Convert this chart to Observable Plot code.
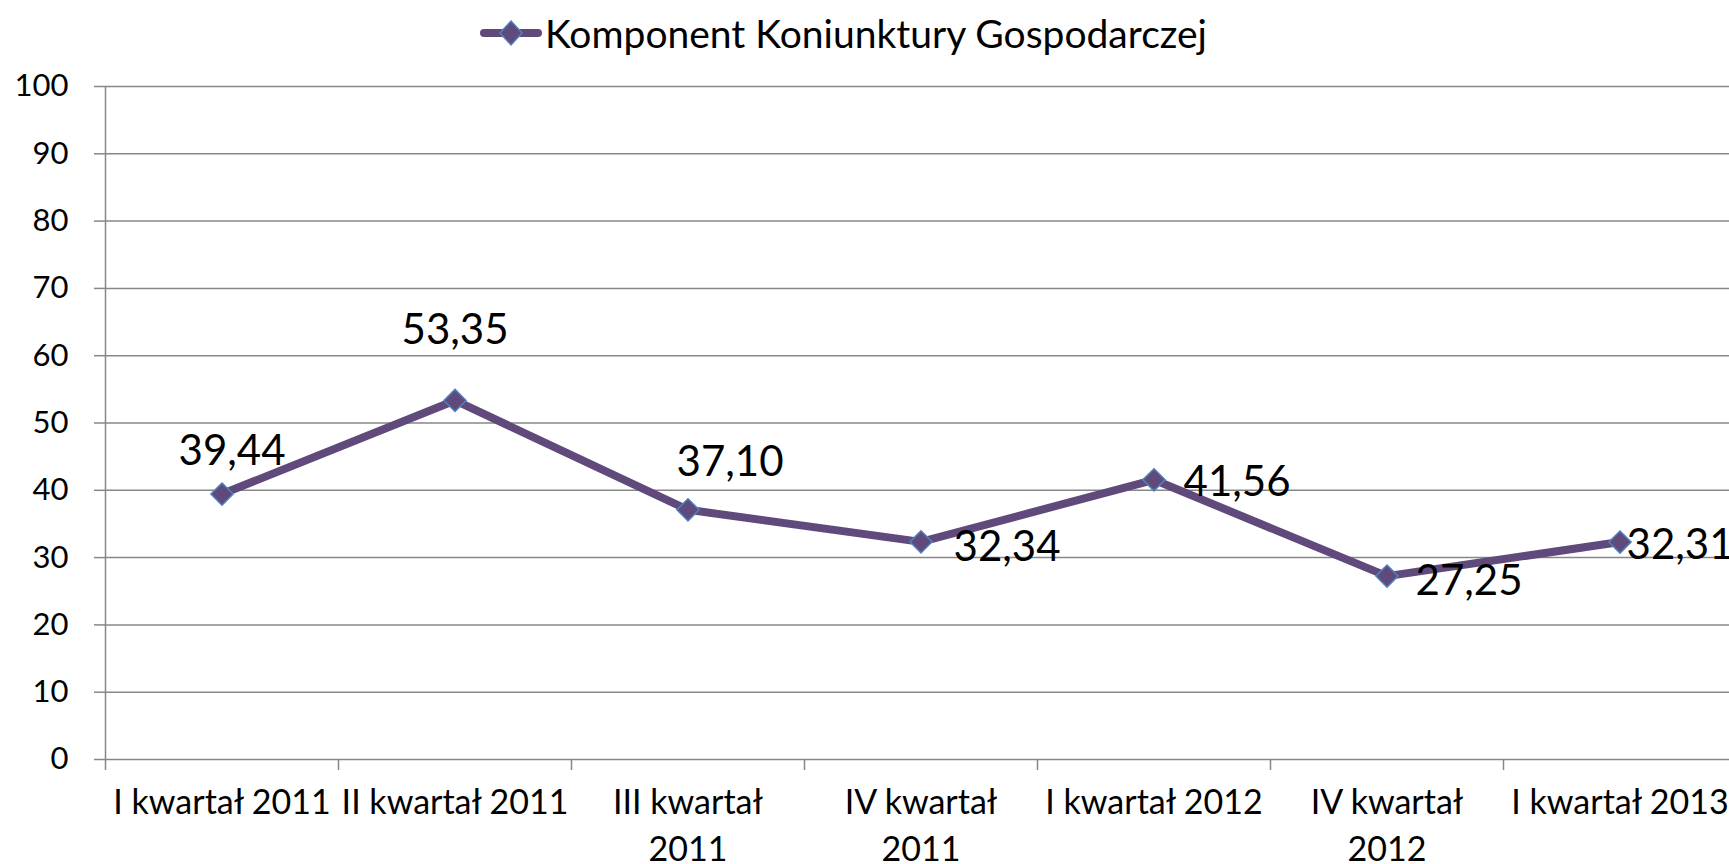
<!DOCTYPE html>
<html>
<head>
<meta charset="utf-8">
<script src="https://cdn.jsdelivr.net/npm/d3@7"></script>
<script src="https://cdn.jsdelivr.net/npm/@observablehq/plot@0.6"></script>
<style>
  html, body { margin: 0; padding: 0; background: #fff; overflow: hidden; width: 1729px; height: 864px; }
  #legend { position: relative; height: 60px; width: 1729px; }
  #legend .item { position: absolute; left: 480px; top: 6px; height: 54px; display: flex; align-items: center; font-family: Lato, sans-serif; font-size: 39px; color: #000; }
  #legend svg { margin-right: 3px; }
  #chart svg { display: block; }
</style>
</head>
<body>
<div id="legend"></div>
<div id="chart"></div>
<script>
// ---- data ----
const seriesName = "Komponent Koniunktury Gospodarczej";
const categories = [
  "I kwartał 2011",
  "II kwartał 2011",
  "III kwartał\n2011",
  "IV kwartał\n2011",
  "I kwartał 2012",
  "IV kwartał\n2012",
  "I kwartał 2013"
];
const values = [39.44, 53.35, 37.10, 32.34, 41.56, 27.25, 32.31];
const yTicks = [0, 10, 20, 30, 40, 50, 60, 70, 80, 90, 100];

// ---- styling (label offsets in px, not data) ----
const lineColor = "#604A7B";
const markerStroke = "#4F81BD";
const gridColor = "#878787";
const labelOffsets = [
  {dx: 10, dy: -43},
  {dx: 0, dy: -70},
  {dx: 42, dy: -47},
  {dx: 86, dy: 6},
  {dx: 83, dy: 3},
  {dx: 82, dy: 5},
  {dx: 60, dy: 3}
];

const data = categories.map((c, i) => ({i, pos: i + 0.5, cat: c, value: values[i]}));
const fmt = v => v.toFixed(2).replace(".", ",");

// legend
const legend = document.getElementById("legend");
legend.innerHTML = `<div class="item"><svg width="62" height="30" viewBox="0 0 62 30">
  <line x1="4" y1="15" x2="58" y2="15" stroke="${lineColor}" stroke-width="8" stroke-linecap="round"/>
  <path d="M31 3 L42 15 L31 27 L20 15 Z" fill="${lineColor}" stroke="${markerStroke}" stroke-width="1.5"/>
</svg><span>${seriesName}</span></div>`;

const W = 1729, H = 804;
const plot = Plot.plot({
  width: W,
  height: H,
  marginLeft: 105,
  marginRight: 0,
  marginTop: 26,
  marginBottom: 105,
  style: {background: "#fff", overflow: "hidden"},
  x: {domain: [0, categories.length], range: [105, 105 + 233 * categories.length], axis: null},
  y: {domain: [0, 100], axis: null},
  marks: [
    Plot.ruleY(yTicks, {stroke: gridColor, strokeWidth: 1.5}),
    Plot.ruleX([0], {y1: 0, y2: 100, stroke: gridColor, strokeWidth: 1.5}),
    Plot.axisY({ticks: yTicks, tickSize: 11, tickPadding: 26, stroke: gridColor, strokeWidth: 1.5, fill: "#000",
      fontSize: 31, fontFamily: "Lato", label: null, tickFormat: d => String(d)}),
    Plot.axisX({ticks: d3.range(0, categories.length + 1), tickSize: 11, stroke: gridColor, strokeWidth: 1.5,
      tickFormat: () => "", label: null}),
    Plot.text(data, {x: "pos", y: () => 0, text: "cat", lineAnchor: "top", dy: 22,
      fontSize: 34, fontFamily: "Lato", lineHeight: 1.36, fill: "#000"}),
    Plot.line(data, {x: "pos", y: "value", stroke: lineColor, strokeWidth: 8, strokeLinejoin: "round"}),
    Plot.dot(data, {x: "pos", y: "value", symbol: "diamond2", r: 10, fill: lineColor, stroke: markerStroke, strokeWidth: 1.5}),
    ...labelOffsets.map((o, k) => Plot.text(data, {
      filter: d => d.i === k, x: "pos", y: "value", text: d => fmt(d.value),
      dx: o.dx, dy: o.dy, fontSize: 42, fontFamily: "Lato", fill: "#000"
    }))
  ]
});
document.getElementById("chart").appendChild(plot);
</script>
</body>
</html>
